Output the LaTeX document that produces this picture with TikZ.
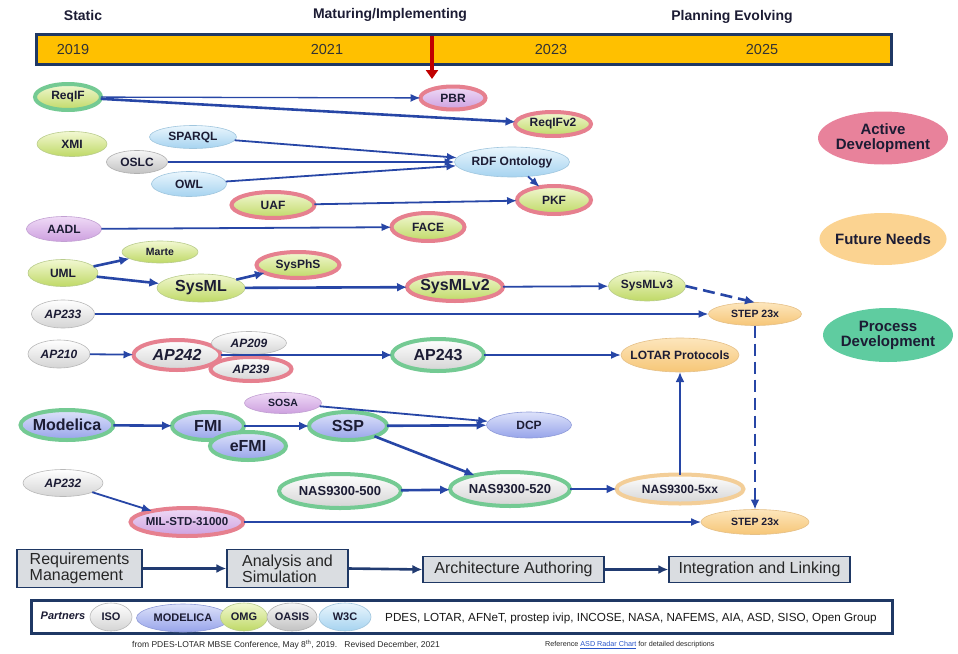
\documentclass[tikz,border=0pt]{standalone}
\usepackage{fontspec}
\setmainfont{Liberation Sans}
\usetikzlibrary{arrows.meta,shapes.geometric}
\definecolor{ygT}{HTML}{F2F8D2}\definecolor{ygB}{HTML}{BFD966}\definecolor{ygD}{HTML}{B9CC8C}
\definecolor{lavT}{HTML}{EFDAF6}\definecolor{lavB}{HTML}{CDA0DF}\definecolor{lavD}{HTML}{C2A0D2}
\definecolor{lbT}{HTML}{EAF6FD}\definecolor{lbB}{HTML}{A6D3F0}\definecolor{lbD}{HTML}{A0C6DE}
\definecolor{grT}{HTML}{F6F6F6}\definecolor{grB}{HTML}{C2C2C2}\definecolor{grD}{HTML}{B0B0B0}
\definecolor{blT}{HTML}{DDE2FA}\definecolor{blB}{HTML}{97A4EA}\definecolor{blD}{HTML}{8E9AD8}
\definecolor{whT}{HTML}{FFFFFF}\definecolor{whB}{HTML}{D4D4D4}\definecolor{whD}{HTML}{B8B8B8}
\definecolor{orT}{HTML}{FDE6BC}\definecolor{orB}{HTML}{F6C677}\definecolor{orD}{HTML}{E5C088}
\definecolor{ringR}{HTML}{E6808F}\definecolor{ringG}{HTML}{74CA93}\definecolor{ringO}{HTML}{F3CE98}
\definecolor{arc}{HTML}{2746A6}\definecolor{navy}{HTML}{1F3864}\definecolor{boxF}{HTML}{DADDE1}
\definecolor{barO}{HTML}{FFC000}\definecolor{redA}{HTML}{C00000}\definecolor{txt}{HTML}{1C1C34}
\definecolor{legA}{HTML}{E8829B}\definecolor{legF}{HTML}{FBD391}\definecolor{legP}{HTML}{5FCCA0}
\definecolor{lnk}{HTML}{2A55C8}
\tikzset{
 nd/.style={ellipse, inner sep=0pt, outer sep=0pt, text=txt,
   font=\bfseries\fontsize{12}{13}\selectfont,
   execute at begin node={\hbox to 0pt\bgroup\hss},
   execute at end node={\hss\egroup}},
 big/.style={font=\bfseries\fontsize{16}{18}\selectfont},
 ital/.style={font=\bfseries\itshape\fontsize{12}{13}\selectfont},
 sml/.style={font=\bfseries\fontsize{10.5}{12}\selectfont},
 sz/.style 2 args={minimum width=#1pt, minimum height=#2pt},
 yg/.style={top color=ygT, bottom color=ygB, draw=ygD, line width=0.6pt},
 lav/.style={top color=lavT, bottom color=lavB, draw=lavD, line width=0.6pt},
 lb/.style={top color=lbT, bottom color=lbB, draw=lbD, line width=0.6pt},
 gry/.style={top color=grT, bottom color=grB, draw=grD, line width=0.6pt},
 bl/.style={top color=blT, bottom color=blB, draw=blD, line width=0.6pt},
 wh/.style={top color=whT, bottom color=whB, draw=whD, line width=0.6pt},
 orn/.style={top color=orT, bottom color=orB, draw=orD, line width=0.6pt},
 rr/.style={draw=ringR, line width=4pt},
 rg/.style={draw=ringG, line width=4pt},
 ro/.style={draw=ringO, line width=4pt},
 ar/.style={draw=arc, line width=1.3pt, -{Latex[length=10pt,width=8pt]}},
 arm/.style={ar, line width=1.8pt},
 ark/.style={draw=arc, line width=2.6pt, -{Latex[length=10pt,width=9pt]}},
 dsh/.style={ark, dash pattern=on 12pt off 6pt},
 hdr/.style={font=\bfseries\fontsize{14}{16}\selectfont, text=txt},
 yr/.style={font=\fontsize{14.5}{16}\selectfont, text=black!80},
 leg/.style={ellipse, inner sep=0pt, inner xsep=-3pt, align=center, text=txt,
   font=\bfseries\fontsize{15}{15}\selectfont},
 pbox/.style={rectangle, draw=navy, line width=1.2pt, fill=boxF, inner xsep=6pt,
   align=left, text=black!85, font=\fontsize{16}{16}\selectfont},
 pnd/.style={nd, font=\bfseries\fontsize{11}{12}\selectfont, sz={#1}{28}},
}
\begin{document}
\begin{tikzpicture}[x=1pt,y=-1pt]
\useasboundingbox (0,0) rectangle (958,653);
% header
\node[hdr] (hStatic) at (83,15) {Static};
\node[hdr] (hMat) at (390,15) {Maturing/Implementing};
\node[hdr] (hPlan) at (732,17) {Planning Evolving};
\node[draw=navy, line width=3pt, fill=barO, minimum width=855pt, minimum height=30pt, inner sep=0pt] (bar) at (464,49.5) {};
\node[yr] (y19) at (73,50) {2019};
\node[yr] (y21) at (327,50) {2021};
\node[yr] (y23) at (551,50) {2023};
\node[yr] (y25) at (762,50) {2025};
\coordinate (rtop) at (432,36);
\coordinate (rend) at (432,79);
\draw[redA, line width=4pt, -{Triangle[length=9pt,width=12pt]}] (rtop) -- (rend);

% nodes
\node[nd, yg, rg, sz={66}{26}] (reqif) at (68,97) {ReqIF};
\node[nd, lav, rr, sz={65}{23}] (pbr) at (453,98) {PBR};
\node[nd, yg, rr, sz={76}{24}] (reqif2) at (553,124) {ReqIFv2};
\node[nd, yg, sz={70}{25}] (xmi) at (72,144) {XMI};
\node[nd, lb, sz={87}{23}] (sparql) at (193,137) {SPARQL};
\node[nd, gry, sz={61}{23}] (oslc) at (137,162) {OSLC};
\node[nd, lb, sz={115}{30}] (rdf) at (512,162) {RDF Ontology};
\node[nd, lb, sz={75}{25}] (owl) at (189,184) {OWL};
\node[nd, yg, rr, sz={83}{26}] (uaf) at (273,205) {UAF};
\node[nd, yg, rr, sz={74}{28}] (pkf) at (554,200) {PKF};
\node[nd, lav, sz={75}{25}] (aadl) at (64,229) {AADL};
\node[nd, yg, rr, sz={73}{28}] (face) at (428,227) {FACE};
\node[nd, yg, sml, sz={76}{22}] (marte) at (160,252) {Marte};
\node[nd, yg, sz={70}{27}] (uml) at (63,273) {UML};
\node[nd, yg, rr, sz={83}{26}] (sysphs) at (298,265) {SysPhS};
\node[nd, yg, big, sz={88}{28}] (sysml) at (201,288) {SysML};
\node[nd, yg, rr, big, sz={96}{28}] (sysml2) at (455,287) {SysMLv2};
\node[nd, yg, sz={77}{30}] (sysml3) at (647,286) {SysMLv3};
\node[nd, wh, ital, sz={63}{28}] (ap233) at (63,314) {AP233};
\node[nd, orn, sml, sz={93}{23}] (stepa) at (755,314) {STEP 23x};
\node[nd, wh, ital, sz={62}{28}] (ap210) at (59,354) {AP210};
\node[nd, wh, rr, sz={87}{30}, font=\bfseries\itshape\fontsize{16}{18}\selectfont] (ap242) at (177,355) {AP242};
\node[nd, wh, ital, sz={75}{23}] (ap209) at (249,343) {AP209};
\node[nd, wh, rr, ital, sz={81}{24}] (ap239) at (251,369) {AP239};
\node[nd, wh, rg, big, sz={92}{32}] (ap243) at (438,355) {AP243};
\node[nd, orn, sz={118}{34}] (lotar) at (680,355) {LOTAR Protocols};
\node[nd, lav, sml, sz={77}{21}] (sosa) at (283,403) {SOSA};
\node[nd, bl, rg, big, sz={93}{30}] (modelica) at (67,425) {Modelica};
\node[nd, bl, rg, big, sz={72}{28}] (fmi) at (208,426) {FMI};
\node[nd, bl, rg, big, sz={76}{28}] (efmi) at (248,446) {eFMI};
\node[nd, bl, rg, big, sz={78}{28}] (ssp) at (348,426) {SSP};
\node[nd, bl, sz={85}{26}] (dcp) at (529,425) {DCP};
\node[nd, wh, ital, sz={80}{27}] (ap232) at (63,483) {AP232};
\node[nd, wh, rg, sz={122}{34}, font=\bfseries\fontsize{13}{14}\selectfont] (nas500) at (340,491) {NAS9300-500};
\node[nd, wh, rg, sz={120}{34}, font=\bfseries\fontsize{13}{14}\selectfont] (nas520) at (510,489) {NAS9300-520};
\node[nd, wh, ro, sz={127}{29}] (nas5xx) at (680,489) {NAS9300-5xx};
\node[nd, lav, rr, sz={113}{28}, font=\bfseries\fontsize{11.5}{13}\selectfont] (mil) at (187,522) {MIL-STD-31000};
\node[nd, orn, sml, sz={108}{25}] (stepb) at (755,522) {STEP 23x};

% connectors
\draw[ar] (reqif) -- (pbr);
\draw[ark] (reqif) -- (reqif2);
\draw[arm] (sparql) -- (rdf);
\draw[arm] (oslc) -- (rdf);
\draw[arm] (owl) -- (rdf);
\draw[arm] (rdf) -- (pkf);
\draw[arm] (uaf) -- (pkf);
\draw[arm] (aadl) -- (face);
\draw[ark] (uml) -- (marte);
\draw[ark] (uml) -- (sysml);
\draw[ark] (sysml) -- (sysphs);
\draw[ark] (sysml) -- (sysml2);
\draw[arm] (sysml2) -- (sysml3);
\draw[dsh] (sysml3.east) -- (stepa.north);
\draw[arm] (ap233) -- (stepa);
\draw[arm] (ap210) -- (ap242);
\draw[ark] (ap242) -- (ap243);
\draw[arm] (ap243) -- (lotar);
\draw[arm] (sosa) -- (dcp);
\draw[ark] (modelica) -- (fmi);
\draw[ark] (fmi) -- (ssp);
\draw[ark] (ssp) -- (dcp);
\draw[ark] (ssp) -- (nas520);
\draw[ark] (nas500) -- (nas520);
\draw[ark] (nas520) -- (nas5xx);
\draw[ark] (nas5xx) -- (lotar);
\draw[dsh] (stepa) -- (stepb);
\draw[arm] (ap232) -- (mil);
\draw[ar] (mil) -- (stepb);

% legend
\node[leg, fill=legA, minimum width=130pt, minimum height=53pt] (lgA) at (883,138) {Active\\Development};
\node[leg, fill=legF, minimum width=127pt, minimum height=52pt] (lgF) at (883,239) {Future Needs};
\node[leg, fill=legP, minimum width=130pt, minimum height=54pt] (lgP) at (888,335) {Process\\Development};

% process boxes
\node[pbox, minimum width=125pt, minimum height=38pt] (b1) at (79.5,568.5) {Requirements\\Management};
\node[pbox, minimum width=121pt, minimum height=38pt] (b2) at (287.5,568.5) {Analysis and\\Simulation};
\node[pbox, minimum width=181pt, minimum height=26pt] (b3) at (513.5,569.5) {Architecture Authoring};
\node[pbox, minimum width=181pt, minimum height=26pt] (b4) at (759.5,569.5) {Integration and Linking};
\draw[ark, draw=navy!80!arc] (b1) -- (b2);
\draw[ark, draw=navy!80!arc] (b2.east) -- (b3.west);
\draw[ark, draw=navy!80!arc] (b3) -- (b4);

% partners
\node[draw=navy, line width=3pt, fill=white, minimum width=861pt, minimum height=33pt, inner sep=0pt] (pbar) at (462,617) {};
\node[font=\bfseries\itshape\fontsize{11}{12}\selectfont, text=txt] (plab) at (63,616) {Partners};
\node[pnd={42}, wh] (piso) at (111,617) {ISO};
\node[pnd={93}, bl] (pmod) at (183,618) {MODELICA};
\node[pnd={47}, yg] (pomg) at (244,617) {OMG};
\node[pnd={50}, gry] (poasis) at (292,617) {OASIS};
\node[pnd={52}, lb] (pw3c) at (345,617) {W3C};
\node[anchor=west, inner sep=0pt, font=\fontsize{11.7}{13}\selectfont, text=black!90] (plist) at (385,618)
  {PDES, LOTAR, AFNeT, prostep ivip, INCOSE, NASA, NAFEMS, AIA, ASD, SISO, Open Group};

% footer
\node[anchor=west, inner sep=0pt, font=\fontsize{8.5}{9}\selectfont, text=black!85] (foot1) at (132,645)
  {from PDES-LOTAR MBSE Conference, May 8\textsuperscript{th}, 2019.\ \ \ Revised December, 2021};
\node[anchor=west, inner sep=0pt, font=\fontsize{7.2}{8}\selectfont, text=black!85] (foot2) at (545,645)
  {Reference \textcolor{lnk}{\underline{ASD Radar Chart}} for detailed descriptions};
\end{tikzpicture}
\end{document}
